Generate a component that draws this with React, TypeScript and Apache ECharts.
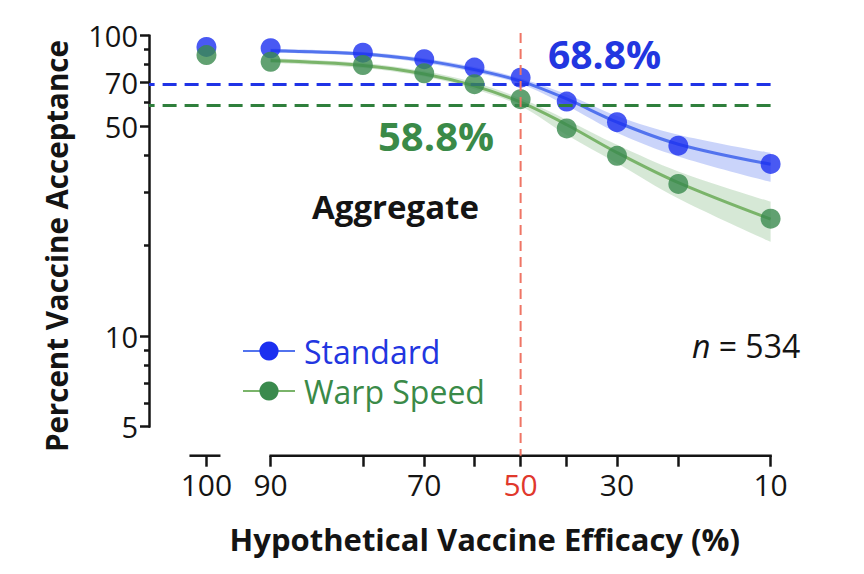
import React, { useEffect, useRef } from "react";
import * as echarts from "echarts";

// ---------- data ----------
const efficacy = [100, 90, 80, 70, 60, 50, 40, 30, 20, 10];
const standardPoints = [91.6, 90.7, 87.7, 83.4, 78.2, 72.4, 60.3, 51.5, 43.0, 37.4];
const warpPoints = [86.1, 81.8, 79.8, 74.9, 68.9, 61.4, 49.1, 39.8, 32.1, 24.6];

const fitEfficacy = [90, 80, 70, 60, 50, 40, 30, 20, 10];
const standardFit = [89.0, 86.8, 82.5, 77.0, 70.5, 61.5, 51.5, 43.5, 37.3];
const standardLower = [87.6, 85.5, 81.0, 75.5, 69.0, 58.5, 47.5, 39.6, 32.6];
const standardUpper = [90.4, 88.2, 84.0, 78.5, 72.0, 63.8, 54.0, 46.8, 40.7];
const warpFit = [82.5, 79.5, 74.5, 68.0, 60.0, 50.5, 40.8, 32.4, 24.5];
const warpLower = [81.0, 78.0, 73.0, 66.3, 58.3, 46.7, 37.6, 28.7, 20.6];
const warpUpper = [84.0, 81.0, 76.0, 69.8, 61.8, 52.4, 43.3, 35.3, 28.0];

const standardThreshold = 68.8;
const warpThreshold = 58.8;
const thresholdEfficacy = 50;

const xTickValues = [100, 90, 80, 70, 60, 50, 40, 30, 20, 10];
const xLabelValues = [100, 90, 70, 50, 30, 10];
const yLabelValues = [5, 10, 50, 70, 100];
const yMinorTickValues = [6, 7, 8, 9, 20, 30, 40, 60, 80, 90];

const legendNames = ["Standard", "Warp Speed"];
const sampleSize = 534;

// ---------- styling ----------
const FONT = "'Open Sans', Lato, 'Noto Sans', sans-serif";
const BLUE_PT = "#1b2ff0";
const BLUE_LINE = "#5273ee";
const BLUE_BAND = "rgba(95,125,240,0.33)";
const BLUE_DASH = "#1f33e6";
const BLUE_TEXT = "#2236e0";
const GREEN_PT = "#3a8a4d";
const GREEN_LINE = "#7ab46a";
const GREEN_BAND = "rgba(120,180,120,0.30)";
const GREEN_DASH = "#2f7f3c";
const GREEN_TEXT = "#3a8a48";
const RED_LINE = "#ef7565";
const RED_TEXT = "#e0382c";
const INK = "#141414";

// logit x-scale, with an axis break for 100%
const BREAK_OFFSET = 0.564;
const LEFT_EXTENT = 1.069;
function logit(e: number) {
  const p = e / 100;
  return Math.log(p / (1 - p));
}
function xPos(e: number) {
  return e >= 100 ? logit(90) + BREAK_OFFSET : logit(e);
}
function xLabel(v: number) {
  if (Math.abs(v - xPos(100)) < 1e-6) return "100";
  const e = Math.round(100 / (1 + Math.exp(-v)));
  return e === thresholdEfficacy ? "{red|" + e + "}" : String(e);
}

const SMOOTH = 0.35;
const toPts = (xs: number[], ys: number[]) => ys.map((y, i) => [xPos(xs[i]), y]);
// band series keep the value first so that stacking happens on the y dimension
const toBandPts = (xs: number[], ys: number[]) => ys.map((y, i) => [y, xPos(xs[i])]);
const diff = (a: number[], b: number[]) => a.map((v, i) => +(v - b[i]).toFixed(3));

export default function App() {
  const ref = useRef<HTMLDivElement>(null);
  useEffect(() => {
    if (!ref.current) return;
    const chart = echarts.init(ref.current, undefined, { renderer: "svg" });
    const tickLine = { color: INK, width: 2.5 };
    const bandCommon = {
      type: "line", smooth: SMOOTH, symbol: "none", silent: true,
      encode: { x: 1, y: 0 }, lineStyle: { opacity: 0 }, z: 1,
    };
    const option: any = {
      animation: false,
      grid: {
        left: 149,
        right: 93.4,
        top: 35.5,
        bottom: 147.3,
        containLabel: false,
        outerBoundsMode: "none",
      },
      legend: {
        show: true,
        orient: "vertical",
        left: 242,
        top: 335,
        padding: 0,
        itemWidth: 52,
        itemHeight: 24,
        itemGap: 8,
        selectedMode: false,
        data: [
          { name: legendNames[0], textStyle: { color: BLUE_TEXT } },
          { name: legendNames[1], textStyle: { color: GREEN_TEXT } },
        ],
        textStyle: { fontSize: 32, fontFamily: FONT, padding: [0, 0, 0, 4] },
      },
      xAxis: {
        type: "value",
        inverse: true,
        min: xPos(10),
        max: logit(90) + LEFT_EXTENT,
        offset: 29,
        axisLine: { show: false, onZero: false },
        splitLine: { show: false },
        axisTick: {
          show: true,
          customValues: xTickValues.map(xPos),
          length: 11,
          lineStyle: tickLine,
        },
        axisLabel: {
          customValues: xLabelValues.map(xPos),
          formatter: xLabel,
          margin: 14,
          fontSize: 30,
          color: INK,
          fontFamily: FONT,
          rich: { red: { color: RED_TEXT, fontSize: 30, fontFamily: FONT } },
        },
        name: "Hypothetical Vaccine Efficacy (%)",
        nameLocation: "middle",
        nameGap: 68,
        nameTextStyle: {
          fontSize: 31,
          fontWeight: "bold",
          color: INK,
          fontFamily: FONT,
          padding: [0, 0, 0, 50],
        },
      },
      yAxis: [
        {
          type: "log",
          logBase: 10,
          min: 5,
          max: 100,
          position: "left",
          axisLine: { show: true, onZero: false, lineStyle: tickLine },
          axisTick: { show: true, customValues: yLabelValues, length: 9, lineStyle: tickLine },
          minorTick: { show: false },
          splitLine: { show: false },
          axisLabel: {
            customValues: yLabelValues,
            margin: 11,
            fontSize: 29,
            color: INK,
            fontFamily: FONT,
          },
          name: "Percent Vaccine Acceptance",
          nameLocation: "middle",
          nameGap: 78,
          nameRotate: 90,
          nameTextStyle: {
            fontSize: 29.5,
            fontWeight: "bold",
            color: INK,
            fontFamily: FONT,
            padding: [0, 30, 0, 0],
          },
        },
        {
          type: "log",
          logBase: 10,
          min: 5,
          max: 100,
          position: "left",
          offset: 0,
          axisLine: { show: false, onZero: false },
          axisTick: { show: true, customValues: yMinorTickValues, length: 5, lineStyle: tickLine },
          axisLabel: { show: false },
          splitLine: { show: false },
        },
      ],
      series: [
        { ...bandCommon, name: "stdBandBase", data: toBandPts(fitEfficacy, standardLower), stack: "std" },
        {
          ...bandCommon, name: "stdBand", stack: "std",
          data: toBandPts(fitEfficacy, diff(standardUpper, standardLower)),
          areaStyle: { color: BLUE_BAND, opacity: 1 },
        },
        { ...bandCommon, name: "warpBandBase", data: toBandPts(fitEfficacy, warpLower), stack: "warp" },
        {
          ...bandCommon, name: "warpBand", stack: "warp",
          data: toBandPts(fitEfficacy, diff(warpUpper, warpLower)),
          areaStyle: { color: GREEN_BAND, opacity: 1 },
        },
        {
          type: "line", name: legendNames[0], data: toPts(fitEfficacy, standardFit),
          smooth: SMOOTH, symbol: "circle", showSymbol: false, symbolSize: 19, silent: true,
          lineStyle: { color: BLUE_LINE, width: 3 }, itemStyle: { color: BLUE_PT }, z: 3,
        },
        {
          type: "line", name: legendNames[1], data: toPts(fitEfficacy, warpFit),
          smooth: SMOOTH, symbol: "circle", showSymbol: false, symbolSize: 19, silent: true,
          lineStyle: { color: GREEN_LINE, width: 3 }, itemStyle: { color: GREEN_PT }, z: 3,
        },
        {
          type: "scatter", name: legendNames[0], data: toPts(efficacy, standardPoints),
          symbolSize: 20, clip: false, silent: true, itemStyle: { color: BLUE_PT }, z: 4,
        },
        {
          type: "scatter", name: legendNames[1], data: toPts(efficacy, warpPoints),
          symbolSize: 20, clip: false, silent: true, itemStyle: { color: GREEN_PT }, z: 5,
        },
        {
          type: "line", name: "thresholds", data: [], silent: true, z: 6,
          markLine: {
            silent: true, symbol: "none", label: { show: false }, animation: false,
            data: [
              { yAxis: standardThreshold, lineStyle: { color: BLUE_DASH, type: [14, 8], width: 3 } },
              { yAxis: warpThreshold, lineStyle: { color: GREEN_DASH, type: [14, 8], width: 3 } },
            ],
          },
        },
      ],
    };
    chart.setOption(option);

    const px = (e: number) => chart.convertToPixel({ xAxisIndex: 0 }, xPos(e)) as number;
    const py = (v: number) => chart.convertToPixel({ yAxisIndex: 0 }, v) as number;
    const axisY = py(5) + 29;
    const x100 = px(100);
    const lineStyle = { stroke: INK, lineWidth: 2.5 };
    chart.setOption({
      graphic: [
        { type: "line", z: 50, shape: { x1: x100 - 17, y1: axisY, x2: x100 + 14, y2: axisY }, style: lineStyle },
        { type: "line", z: 50, shape: { x1: px(90) - 1.2, y1: axisY, x2: px(10) + 1.2, y2: axisY }, style: lineStyle },
        {
          type: "line", z: 60,
          shape: { x1: px(thresholdEfficacy), y1: 33, x2: px(thresholdEfficacy), y2: axisY },
          style: { stroke: RED_LINE, lineWidth: 2, lineDash: [10, 6] },
        },
        {
          type: "text", z: 60, x: 548, y: 53,
          style: { text: standardThreshold.toFixed(1) + "%", fill: BLUE_TEXT, fontSize: 39, fontWeight: "bold", fontFamily: FONT, align: "left", verticalAlign: "middle" },
        },
        {
          type: "text", z: 60, x: 378, y: 135,
          style: { text: warpThreshold.toFixed(1) + "%", fill: GREEN_TEXT, fontSize: 40, fontWeight: "bold", fontFamily: FONT, align: "left", verticalAlign: "middle" },
        },
        {
          type: "text", z: 60, x: 312, y: 206,
          style: { text: "Aggregate", fill: INK, fontSize: 33, fontWeight: "bold", fontFamily: FONT, align: "left", verticalAlign: "middle" },
        },
        {
          type: "text", z: 60, x: 692, y: 345,
          style: {
            text: "{i|n} = " + sampleSize, fill: INK, fontSize: 32, fontFamily: FONT, align: "left", verticalAlign: "middle",
            rich: { i: { fontStyle: "italic", fontSize: 32, fontFamily: FONT, fill: INK } },
          },
        },
      ],
    });
    return () => chart.dispose();
  }, []);
  return (
    <div
      ref={ref}
      style={{ position: "fixed", left: 0, top: 0, width: 864, height: 574, background: "#fff" }}
    />
  );
}
